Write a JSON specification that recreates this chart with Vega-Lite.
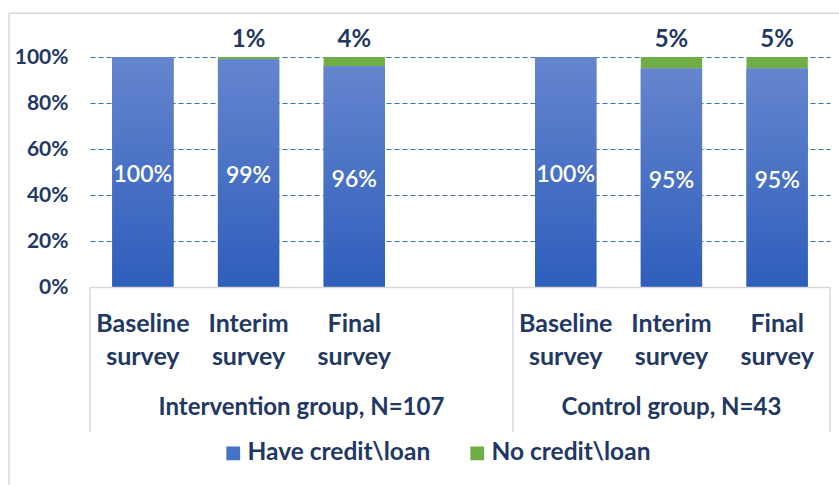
{
  "$schema": "https://vega.github.io/schema/vega-lite/v6.json",
  "width": 740,
  "height": 230,
  "autosize": "none",
  "padding": {"left": 90, "top": 57, "right": 9, "bottom": 198},
  "background": "white",
  "config": {"view": {"stroke": null}, "font": "Lato"},
  "datasets": {
    "bars": [
      {"slot": "I|Baseline survey", "type": "Have credit\\loan", "value": 1.00},
      {"slot": "I|Interim survey", "type": "Have credit\\loan", "value": 0.99},
      {"slot": "I|Interim survey", "type": "No credit\\loan", "value": 0.01},
      {"slot": "I|Final survey", "type": "Have credit\\loan", "value": 0.96},
      {"slot": "I|Final survey", "type": "No credit\\loan", "value": 0.04},
      {"slot": "C|Baseline survey", "type": "Have credit\\loan", "value": 1.00},
      {"slot": "C|Interim survey", "type": "Have credit\\loan", "value": 0.95},
      {"slot": "C|Interim survey", "type": "No credit\\loan", "value": 0.05},
      {"slot": "C|Final survey", "type": "Have credit\\loan", "value": 0.95},
      {"slot": "C|Final survey", "type": "No credit\\loan", "value": 0.05}
    ],
    "groups": [
      {"group": "Intervention group, N=107", "pos": 2},
      {"group": "Control group, N=43", "pos": 5.5}
    ],
    "bounds": [{"b": 0}, {"b": 4}, {"b": 7}]
  },
  "resolve": {"scale": {"x": "independent", "y": "independent"}},
  "layer": [
    {
      "data": {"name": "bars"},
      "encoding": {
        "x": {
          "field": "slot", "type": "nominal", "sort": null,
          "scale": {
            "domain": ["I|Baseline survey", "I|Interim survey", "I|Final survey", "I|", "C|Baseline survey", "C|Interim survey", "C|Final survey"],
            "paddingInner": 0.42, "paddingOuter": 0.21
          },
          "axis": {
            "title": null,
            "labelExpr": "datum.value == 'I|' ? '' : split(split(datum.value, '|')[1], ' ')",
            "labelAngle": 0, "ticks": false,
            "domainColor": "#D9D9D9", "domainWidth": 1.5,
            "labelFontSize": 25, "labelFontWeight": "bold", "labelColor": "#1F3864",
            "labelPadding": 24, "labelLineHeight": 33,
            "labelOverlap": false, "labelBound": false, "labelLimit": 0,
            "zindex": 1
          }
        }
      },
      "layer": [
        {
          "mark": {"type": "bar"},
          "encoding": {
            "y": {
              "field": "value", "type": "quantitative", "stack": "zero",
              "scale": {"domain": [0, 1], "nice": false},
              "axis": {
                "title": null, "format": ".0%", "values": [0, 0.2, 0.4, 0.6, 0.8, 1],
                "domain": false, "ticks": false,
                "labelFontSize": 21, "labelFontWeight": "bold", "labelColor": "#1F3864",
                "labelPadding": 22,
                "gridColor": "#2E75B6", "gridDash": [5, 3], "gridWidth": 1
              }
            },
            "color": {
              "field": "type", "type": "nominal",
              "scale": {"domain": ["Have credit\\loan", "No credit\\loan"], "range": ["#4472C4", "#70AD47"]},
              "legend": {
                "title": null, "orient": "none", "legendX": 131, "legendY": 384,
                "direction": "horizontal", "symbolType": "square", "symbolSize": 190,
                "symbolStrokeWidth": 0, "labelFontSize": 24.5, "labelFontWeight": "bold",
                "labelColor": "#1F3864", "columnPadding": 34, "labelOffset": 2, "labelLimit": 0,
                "padding": 0
              }
            },
            "order": {"field": "type", "sort": "ascending"}
          }
        },
        {
          "transform": [{"filter": {"field": "type", "equal": "Have credit\\loan"}}],
          "mark": {
            "type": "bar",
            "fill": {
              "gradient": "linear", "x1": 0, "y1": 0, "x2": 0, "y2": 1,
              "stops": [{"offset": 0, "color": "#6585CE"}, {"offset": 1, "color": "#2E5EBB"}]
            }
          },
          "encoding": {
            "y": {"field": "value", "type": "quantitative", "stack": null}
          }
        },
        {
          "transform": [{"filter": {"field": "type", "equal": "No credit\\loan"}}],
          "mark": {"type": "text", "dy": -10, "baseline": "alphabetic", "fontSize": 24, "fontWeight": "bold", "color": "#1F3864"},
          "encoding": {
            "y": {"datum": 1, "type": "quantitative"},
            "text": {"field": "value", "type": "quantitative", "format": ".0%"}
          }
        }
      ]
    },
    {
      "data": {"name": "bars"},
      "transform": [{"filter": {"field": "type", "equal": "Have credit\\loan"}}],
      "mark": {"type": "text", "baseline": "middle", "fontSize": 23, "fontWeight": 600, "color": "white", "dy": 3},
      "encoding": {
        "x": {
          "field": "slot", "type": "nominal", "sort": null,
          "scale": {
            "domain": ["I|Baseline survey", "I|Interim survey", "I|Final survey", "I|", "C|Baseline survey", "C|Interim survey", "C|Final survey"],
            "paddingInner": 0.42, "paddingOuter": 0.21
          },
          "axis": null
        },
        "y": {"field": "value", "type": "quantitative", "stack": null, "scale": {"domain": [0, 2], "nice": false}, "axis": null},
        "text": {"field": "value", "type": "quantitative", "format": ".0%"}
      }
    },
    {
      "layer": [
        {
          "data": {"name": "bounds"},
          "mark": {"type": "rule", "color": "#D9D9D9", "strokeWidth": 1.5},
          "encoding": {
            "x": {"field": "b", "type": "quantitative", "scale": {"domain": [0, 7], "nice": false, "zero": false}, "axis": null},
            "y": {"datum": 0, "type": "quantitative", "scale": {"domain": [0, 1], "nice": false}, "axis": null},
            "y2": {"datum": -0.63}
          }
        },
        {
          "data": {"name": "groups"},
          "mark": {"type": "text", "baseline": "middle", "fontSize": 24, "fontWeight": "bold", "color": "#1F3864"},
          "encoding": {
            "x": {"field": "pos", "type": "quantitative", "scale": {"domain": [0, 7], "nice": false, "zero": false}, "axis": null},
            "y": {"datum": -0.526, "type": "quantitative", "scale": {"domain": [0, 1], "nice": false}, "axis": null},
            "text": {"field": "group", "type": "nominal"}
          }
        },
        {
          "data": {"values": [{}]},
          "mark": {"type": "rule", "color": "#D9D9D9", "strokeWidth": 1.5},
          "encoding": {
            "x": {"datum": -0.766, "type": "quantitative", "scale": {"domain": [0, 7], "nice": false, "zero": false}, "axis": null},
            "x2": {"datum": 7.3},
            "y": {"datum": 1.19, "type": "quantitative", "scale": {"domain": [0, 1], "nice": false}, "axis": null}
          }
        },
        {
          "data": {"values": [{}]},
          "mark": {"type": "rule", "color": "#D9D9D9", "strokeWidth": 1.5},
          "encoding": {
            "x": {"datum": -0.766, "type": "quantitative", "scale": {"domain": [0, 7], "nice": false, "zero": false}, "axis": null},
            "y": {"datum": 1.19, "type": "quantitative", "scale": {"domain": [0, 1], "nice": false}, "axis": null},
            "y2": {"datum": -0.95}
          }
        }
      ]
    }
  ]
}
